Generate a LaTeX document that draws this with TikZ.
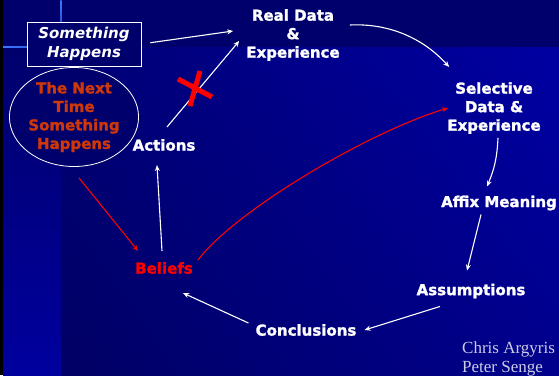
\documentclass[tikz,border=0pt]{standalone}
\usepackage{fontspec}
\setmainfont{Liberation Serif}
\setsansfont{DejaVu Sans}[BoldFeatures={FakeBold=1.6}]
\usetikzlibrary{arrows.meta,shapes.geometric,shadings}

\definecolor{navy}{RGB}{0,0,108}
\definecolor{deepblue}{RGB}{0,0,158}
\definecolor{glow}{RGB}{60,120,255}
\definecolor{rust}{RGB}{205,55,10}
\definecolor{credit}{RGB}{205,205,232}
\definecolor{bgul}{RGB}{0,0,118}
\definecolor{bgur}{RGB}{0,0,162}
\definecolor{bgll}{RGB}{0,0,100}
\definecolor{bglr}{RGB}{0,0,140}

\begin{document}
\begin{tikzpicture}[x=1pt,y=-1pt,
    lbl/.style={font=\sffamily\bfseries\fontsize{15}{18.5}\selectfont,
      text=white, align=center, inner sep=2pt},
    slant/.style={lbl, font=\sffamily\bfseries\itshape\fontsize{15}{18.5}\selectfont},
    wline/.style={-{Stealth[length=6pt,width=5pt]}, white, line width=1.1pt},
    rline/.style={-{Stealth[length=6pt,width=5pt]}, red, line width=1.1pt}]
      \useasboundingbox (0,0) rectangle (559,375);
      % background panels
      \fill[black] (0,0) rectangle (3,375);
      \fill[navy] (3,0) rectangle (559,47);
      \shade[top color=navy, bottom color=deepblue] (3,47) rectangle (61,375);
      \shade[upper left=bgul, upper right=bgur, lower left=bgll, lower right=bglr]
        (61,47) rectangle (559,375);
      \shade[top color=glow, bottom color=navy] (60.3,0) rectangle (61.7,80);
      \shade[left color=glow, right color=navy] (3,46.3) rectangle (150,47.7);
      \draw
        (84,44) node[slant, draw=white, fill=navy, line width=0.8pt,
          minimum width=114pt, minimum height=44pt] (happen){Something\\Happens}
        (74,117) node[lbl, ellipse, draw=white, fill=navy, text=rust, line width=0.8pt,
          minimum width=124pt, minimum height=92pt, inner sep=0pt] (next){The Next\\Time\\Something\\Happens}
        (164,145) node[lbl] (act){Actions}
        (293,35) node[lbl] (real){Real Data\\\&\\Experience}
        (494,108) node[lbl] (sel){Selective\\Data \&\\Experience}
        (499,203) node[lbl] (affix){Affix Meaning}
        (471,291) node[lbl] (assum){Assumptions}
        (306,330) node[lbl] (concl){Conclusions}
        (164,268) node[lbl, text=red] (bel){Beliefs}
        (462,353) node[anchor=base west, inner sep=0pt, text=credit,
          font=\fontsize{17}{19}\selectfont] (argyris){Chris Argyris}
        (462,372) node[anchor=base west, inner sep=0pt, text=credit,
          font=\fontsize{17}{19}\selectfont] (senge){Peter Senge};
      \begin{scope}[wline]
        \draw[shorten <=9pt] (happen.east) to ([shift={(-11pt,4pt)}]real.west);
        \draw ([shift={(3pt,10pt)}]act.north) to ([shift={(-5pt,-6pt)}]real.west);
        \draw ([shift={(8pt,10pt)}]real.east) .. controls +(40,-2) and +(-25,-28)
          .. ([shift={(4pt,13pt)}]sel.north west);
        \draw ([shift={(4pt,-2pt)}]sel.south) to[bend left=10] ([shift={(-12pt,7pt)}]affix.north);
        \draw ([shift={(-18pt,-2pt)}]affix.south) to ([shift={(-4pt,11pt)}]assum.north);
        \draw ([shift={(-31pt,-6pt)}]assum.south) to ([xshift=6pt]concl.east);
        \draw ([shift={(-5pt,7pt)}]concl.west) to ([shift={(-12pt,-17pt)}]bel.south east);
        \draw ([shift={(-2pt,9pt)}]bel.north) to ([shift={(-7pt,-12pt)}]act.south);
      \end{scope}
      \begin{scope}[rline]
        \draw ([shift={(5pt,-11pt)}]next.south) to ([shift={(5pt,9pt)}]bel.north west);
        \draw ([xshift=3pt]bel.north east) .. controls +(37,-49) and +(-80,24)
          .. ([xshift=3pt]sel.west);
      \end{scope}
      % crossed-out link
      \draw[red, line width=5pt] (178,79) -- (212,97) (200,71) -- (190,106);
    \end{tikzpicture}
\end{document}
